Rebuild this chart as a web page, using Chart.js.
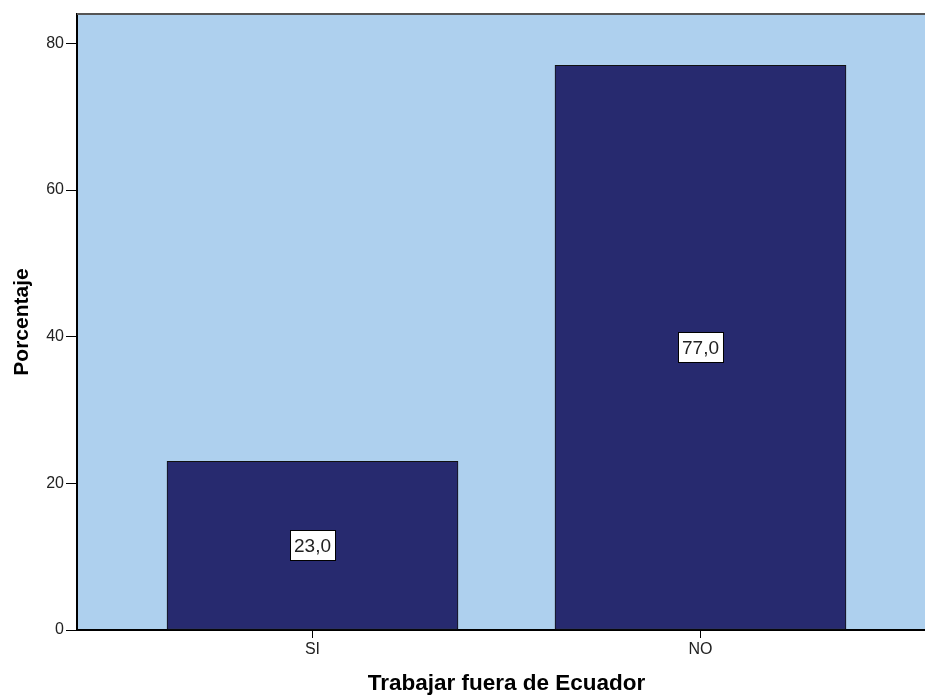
<!DOCTYPE html>
<html>
<head>
<meta charset="utf-8">
<script src="https://cdn.jsdelivr.net/npm/chart.js@4.4.0/dist/chart.umd.min.js"></script>
<style>
  html, body { margin: 0; padding: 0; background: #fff; overflow: hidden; }
  #wrap { width: 940px; height: 697px; }
</style>
</head>
<body>
<div id="wrap"><canvas id="chart" width="940" height="697"></canvas></div>
<script>
const categories = ['SI', 'NO'];
const values = [23.0, 77.0];
const yTicks = [0, 20, 40, 60, 80];

// fondo del area y borde superior
const plotBackground = {
    id: 'plotBackground',
    beforeDraw(chart) {
        const { ctx, chartArea } = chart;
        ctx.save();
        ctx.fillStyle = '#AED0EE';
        ctx.fillRect(chartArea.left, chartArea.top, chartArea.right - chartArea.left, chartArea.bottom - chartArea.top);
        ctx.restore();
    },
    afterDraw(chart) {
        const { ctx, chartArea } = chart;
        ctx.save();
        ctx.strokeStyle = '#555';
        ctx.lineWidth = 2;
        ctx.beginPath();
        ctx.moveTo(chartArea.left, chartArea.top);
        ctx.lineTo(chartArea.right, chartArea.top);
        ctx.stroke();
        ctx.restore();
    }
};

// etiquetas de valor en el centro de cada barra
const barLabels = {
    id: 'barLabels',
    afterDatasetsDraw(chart) {
        const { ctx } = chart;
        const meta = chart.getDatasetMeta(0);
        ctx.save();
        ctx.font = '19px "Liberation Sans", Arial, sans-serif';
        ctx.textAlign = 'center';
        ctx.textBaseline = 'middle';
        meta.data.forEach((bar, i) => {
            const text = values[i].toFixed(1).replace('.', ',');
            const cy = (bar.y + bar.base) / 2;
            const w = ctx.measureText(text).width + 8;
            const h = 30;
            ctx.fillStyle = '#fff';
            ctx.fillRect(bar.x - w / 2, cy - h / 2, w, h);
            ctx.strokeStyle = '#000';
            ctx.lineWidth = 1;
            ctx.strokeRect(Math.round(bar.x - w / 2) + 0.5, Math.round(cy - h / 2) + 0.5, Math.round(w), h);
            ctx.fillStyle = '#222';
            ctx.fillText(text, bar.x, cy + 1);
        });
        ctx.restore();
    }
};

const ctx = document.getElementById('chart').getContext('2d');
new Chart(ctx, {
    type: 'bar',
    data: {
        datasets: [{
            label: 'Porcentaje',
            data: categories.map((c, i) => ({ x: i + 1, y: values[i] })),
            backgroundColor: '#272A6F',
            borderColor: '#111',
            borderWidth: 1,
            borderSkipped: false,
            barThickness: 291
        }]
    },
    options: {
        responsive: false,
        animation: false,
        layout: { padding: { top: 14, right: 4, left: 0, bottom: 0 } },
        plugins: {
            legend: { display: false },
            tooltip: { enabled: false }
        },
        scales: {
            x: {
                type: 'linear',
                offset: false,
                min: 0.393,
                max: 2.607,
                afterBuildTicks: scale => { scale.ticks = categories.map((c, i) => ({ value: i + 1 })); },
                afterFit: scale => { scale.height = 67; },
                ticks: {
                    color: '#222',
                    font: { family: '"Liberation Sans", Arial, sans-serif', size: 16 },
                    padding: 2,
                    callback: v => categories[Math.round(v) - 1]
                },
                grid: { drawOnChartArea: false, offset: false, color: '#000', tickLength: 8 },
                border: { color: '#000', width: 2 },
                title: {
                    display: true,
                    text: 'Trabajar fuera de Ecuador',
                    color: '#000',
                    font: { family: '"Liberation Sans", Arial, sans-serif', size: 22.5, weight: 'bold' },
                    padding: { top: 14, bottom: 0 }
                }
            },
            y: {
                min: 0,
                max: 84,
                afterBuildTicks: scale => { scale.ticks = yTicks.map(v => ({ value: v })); },
                afterFit: scale => { scale.width = 77; },
                ticks: {
                    color: '#222',
                    font: { family: '"Liberation Sans", Arial, sans-serif', size: 16 },
                    padding: 2
                },
                grid: { drawOnChartArea: false, color: '#000', tickLength: 11 },
                border: { color: '#000', width: 2 },
                title: {
                    display: true,
                    text: 'Porcentaje',
                    color: '#000',
                    font: { family: '"Liberation Sans", Arial, sans-serif', size: 21, weight: 'bold' },
                    padding: { top: 10, bottom: 6 }
                }
            }
        }
    },
    plugins: [plotBackground, barLabels]
});
</script>
</body>
</html>
